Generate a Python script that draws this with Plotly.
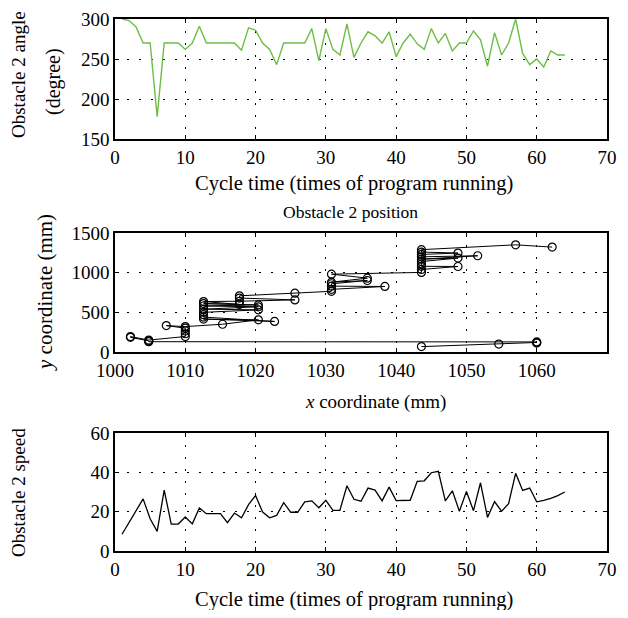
import plotly.graph_objects as go

# ---- data ----
cycles = list(range(1, 65))
angle = [300, 298, 290, 270, 270, 178, 270, 270, 270, 262,
         270, 291, 270, 270, 270, 270, 270, 261, 289, 286,
         270, 262, 243, 270, 270, 270, 270, 288, 248, 288,
         262, 255, 294, 252, 270, 284, 279, 270, 284, 253,
         270, 281, 269, 262, 288, 270, 282, 260, 270, 270,
         285, 274, 241, 283, 255, 270, 300, 257, 243, 250,
         240, 260, 255, 255]
speed = [8.5, 14.5, 20.5, 26.5, 16.4, 10, 31, 13.7, 13.7, 17.3,
         13.8, 21.9, 19, 19, 19, 14.4, 19.3, 16.9, 23.6, 28.2,
         19.8, 16.9, 18.1, 24.6, 19.7, 19.7, 25, 25.5, 22, 25.8,
         20.7, 20.7, 33.2, 26.3, 25.3, 32, 31, 25.5, 32.5, 25.6,
         25.6, 25.8, 35.4, 35.7, 39.8, 40.5, 25.5, 30.6, 20.2, 30.3,
         20.5, 34.7, 17.1, 25.1, 20.2, 24.1, 39.5, 30.8, 32, 25,
         25.8, 26.8, 28.2, 30]
pos_x = [1043.6, 1054.6, 1060.0, 1060.0, 1060.0, 1004.8, 1004.8, 1002.2, 1002.2, 1004.8,
         1010.0, 1010.0, 1010.0, 1010.0, 1007.3, 1010.0, 1015.3, 1020.4, 1012.6, 1022.7,
         1012.6, 1012.6, 1012.6, 1020.4, 1012.6, 1020.4, 1012.6, 1020.4, 1012.6, 1017.7,
         1012.6, 1017.7, 1025.6, 1017.7, 1017.7, 1025.6, 1030.8, 1030.8, 1038.4, 1030.8,
         1030.8, 1035.9, 1030.8, 1035.9, 1030.8, 1043.6, 1043.6, 1048.8, 1043.6, 1043.6,
         1043.6, 1048.8, 1043.6, 1051.6, 1043.6, 1043.6, 1048.8, 1043.6, 1043.6, 1057.0,
         1062.2]
pos_y = [68, 100, 112, 120, 127, 130, 140, 185, 195, 150,
         195, 230, 265, 300, 333, 320, 350, 405, 415, 385,
         440, 470, 500, 531, 540, 570, 580, 594, 610, 600,
         636, 640, 657, 680, 708, 742, 765, 790, 826, 830,
         860, 901, 880, 931, 981, 1003, 1040, 1078, 1080, 1110,
         1140, 1184, 1170, 1213, 1200, 1230, 1247, 1260, 1290, 1351,
         1322]

# page body has an 8px margin: figure is 612x602 placed at (8, 8)
W, H = 612, 602
OFF = 8
FONT = "Liberation Serif"


def px(x):
    return (x - OFF) / W


def py(y):
    return 1 - (y - OFF) / H


fig = go.Figure()
fig.add_trace(go.Scatter(x=cycles, y=angle, mode="lines",
                         line=dict(color="#6DBE45", width=1.4),
                         xaxis="x", yaxis="y", showlegend=False))
fig.add_trace(go.Scatter(x=pos_x, y=pos_y, mode="lines+markers",
                         line=dict(color="black", width=1),
                         marker=dict(symbol="circle-open", size=8, color="black",
                                     line=dict(width=1.2, color="black")),
                         xaxis="x2", yaxis="y2", showlegend=False))
fig.add_trace(go.Scatter(x=cycles, y=speed, mode="lines",
                         line=dict(color="black", width=1.3),
                         xaxis="x3", yaxis="y3", showlegend=False))

xdom = [px(115), px(607)]
doms = {1: [py(139), py(19)], 2: [py(352), py(233)], 3: [py(551), py(433)]}

common = dict(showline=True, linecolor="black", linewidth=1.5, mirror="ticks",
              ticks="inside", ticklen=4, tickcolor="black", automargin=False,
              showgrid=True, gridcolor="black", gridwidth=1, griddash="2px,10px",
              zeroline=False, tickfont=dict(family=FONT, size=19, color="black"))

fig.update_layout(
    xaxis=dict(domain=xdom, anchor="y", range=[0, 70], dtick=10, **common),
    yaxis=dict(domain=doms[1], anchor="x", range=[150, 300], dtick=50, **common),
    xaxis2=dict(domain=xdom, anchor="y2", range=[1000, 1070], dtick=10, **common),
    yaxis2=dict(domain=doms[2], anchor="x2", range=[0, 1500], dtick=500, **common),
    xaxis3=dict(domain=xdom, anchor="y3", range=[0, 70], dtick=10, **common),
    yaxis3=dict(domain=doms[3], anchor="x3", range=[0, 60], dtick=20, **common),
)

annos = [
    dict(text="Cycle time (times of program running)", x=px(354), y=py(183), size=20.5),
    dict(text="Obstacle 2 position", x=px(350), y=py(212), size=17.5),
    dict(text="<i>x</i> coordinate (mm)", x=px(375), y=py(402), size=19),
    dict(text="Cycle time (times of program running)", x=px(354), y=py(599), size=20.5),
    dict(text="Obstacle 2 angle", x=px(18), y=py(75), size=19, textangle=-90),
    dict(text="(degree)", x=px(53), y=py(82), size=20, textangle=-90),
    dict(text="<i>y</i> coordinate (mm)", x=px(45), y=py(293), size=21, textangle=-90),
    dict(text="Obstacle 2 speed", x=px(18), y=py(493), size=19, textangle=-90),
]
for a in annos:
    size = a.pop("size")
    fig.add_annotation(xref="paper", yref="paper", showarrow=False,
                       xanchor="center", yanchor="middle",
                       font=dict(family=FONT, size=size, color="black"), **a)

fig.update_layout(width=W, height=H, margin=dict(l=0, r=0, t=0, b=0),
                  paper_bgcolor="white", plot_bgcolor="white",
                  font=dict(family=FONT, color="black"))

fig.write_html("out.html")
